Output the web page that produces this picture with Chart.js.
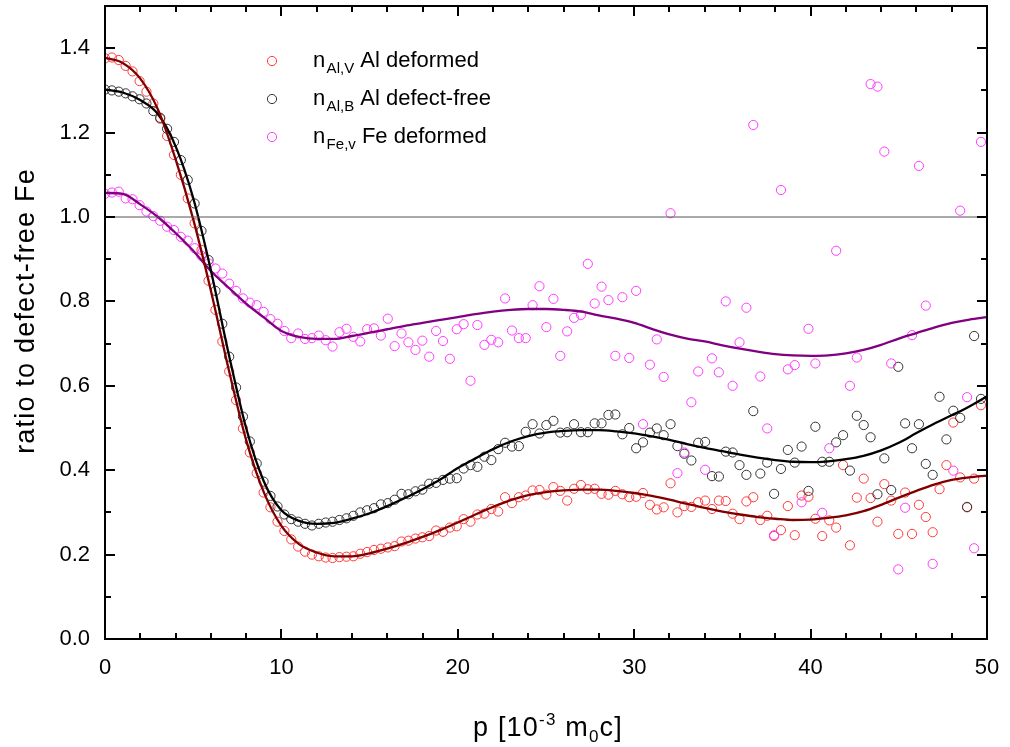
<!DOCTYPE html>
<html>
<head>
<meta charset="utf-8">
<script src="https://cdn.jsdelivr.net/npm/chart.js@4.4.1/dist/chart.umd.min.js"></script>
<style>
  html, body { margin: 0; padding: 0; background: #fff; }
  #wrap { width: 1010px; height: 747px; }
</style>
</head>
<body>
<div id="wrap"><canvas id="ratio-chart" width="1010" height="747"></canvas></div>
<script>
// momentum grid of the measured points, in 10^-3 m0c
var pGrid = [
  0, 0.39, 0.78, 1.17, 1.56, 1.96, 2.35, 2.74, 3.13, 3.52,
  3.91, 4.30, 4.69, 5.08, 5.47, 5.87, 6.26, 6.65, 7.04, 7.43,
  7.82, 8.21, 8.60, 8.99, 9.38, 9.78, 10.17, 10.56, 10.95, 11.34,
  11.73, 12.12, 12.51, 12.90, 13.29, 13.69, 14.08, 14.47, 14.86, 15.25,
  15.64, 16.03, 16.42, 16.81, 17.20, 17.60, 17.99, 18.38, 18.77, 19.16,
  19.55, 19.94, 20.33, 20.72, 21.11, 21.51, 21.90, 22.29, 22.68, 23.07,
  23.46, 23.85, 24.24, 24.63, 25.02, 25.42, 25.81, 26.20, 26.59, 26.98,
  27.37, 27.76, 28.15, 28.54, 28.93, 29.33, 29.72, 30.11, 30.50, 30.89,
  31.28, 31.67, 32.06, 32.45, 32.84, 33.24, 33.63, 34.02, 34.41, 34.80,
  35.19, 35.58, 35.97, 36.36, 36.75, 37.15, 37.54, 37.93, 38.32, 38.71,
  39.10, 39.49, 39.88, 40.27, 40.66, 41.06, 41.45, 41.84, 42.23, 42.62,
  43.01, 43.40, 43.79, 44.18, 44.57, 44.97, 45.36, 45.75, 46.14, 46.53,
  46.92, 47.31, 47.70, 48.09, 48.48, 48.87, 49.27, 49.66
];

// n Al,V  - Al deformed
var nAlV = [
  1.376, 1.378, 1.372, 1.358, 1.345, 1.322, 1.297, 1.269, 1.233, 1.192,
  1.147, 1.100, 1.044, 0.985, 0.922, 0.849, 0.780, 0.705, 0.634, 0.566,
  0.499, 0.442, 0.393, 0.347, 0.312, 0.278, 0.256, 0.236, 0.219, 0.207,
  0.200, 0.196, 0.193, 0.192, 0.194, 0.195, 0.196, 0.202, 0.206, 0.211,
  0.214, 0.217, 0.220, 0.231, 0.233, 0.238, 0.241, 0.244, 0.257, 0.254,
  0.264, 0.267, 0.284, 0.278, 0.295, 0.297, 0.308, 0.302, 0.336, 0.322,
  0.336, 0.340, 0.352, 0.353, 0.342, 0.360, 0.351, 0.328, 0.356, 0.365,
  0.355, 0.356, 0.344, 0.342, 0.351, 0.343, 0.336, 0.337, 0.346, 0.318,
  0.307, 0.312, 0.369, 0.300, 0.315, 0.313, 0.324, 0.328, 0.308, 0.328,
  0.327, 0.297, 0.284, 0.326, 0.336, 0.282, 0.292, 0.244, 0.258, 0.315,
  0.246, 0.340, 0.337, 0.285, 0.244, 0.281, 0.264, 0.412, 0.222, 0.335,
  0.380, 0.334, 0.278, 0.367, 0.328, 0.249, 0.347, 0.249, 0.318, 0.289,
  0.253, 0.355, 0.412, 0.513, 0.383, 0.312, 0.380, 0.554
];

// n Al,B  - Al defect-free
var nAlB = [
  1.302, 1.300, 1.297, 1.293, 1.286, 1.279, 1.269, 1.251, 1.235, 1.209,
  1.178, 1.135, 1.088, 1.032, 0.967, 0.898, 0.825, 0.747, 0.669, 0.596,
  0.527, 0.468, 0.416, 0.373, 0.339, 0.314, 0.295, 0.284, 0.278, 0.273,
  0.269, 0.273, 0.276, 0.278, 0.282, 0.286, 0.292, 0.300, 0.305, 0.310,
  0.319, 0.322, 0.330, 0.344, 0.343, 0.350, 0.354, 0.368, 0.370, 0.377,
  0.380, 0.381, 0.404, 0.412, 0.408, 0.432, 0.424, 0.450, 0.465, 0.456,
  0.457, 0.491, 0.509, 0.487, 0.507, 0.517, 0.489, 0.490, 0.509, 0.490,
  0.490, 0.511, 0.511, 0.531, 0.532, 0.485, 0.500, 0.452, 0.466, 0.489,
  0.499, 0.483, 0.509, 0.457, 0.439, 0.423, 0.465, 0.467, 0.386, 0.385,
  0.444, 0.442, 0.412, 0.389, 0.540, 0.392, 0.418, 0.344, 0.403, 0.448,
  0.418, 0.456, 0.351, 0.503, 0.420, 0.420, 0.466, 0.483, 0.399, 0.529,
  0.507, 0.478, 0.343, 0.428, 0.353, 0.645, 0.511, 0.452, 0.509, 0.415,
  0.389, 0.574, 0.473, 0.541, 0.524, 0.313, 0.718, 0.569
];

// n Fe,v  - Fe deformed (null = no point visible)
var nFeV = [
  1.055, 1.058, 1.060, 1.044, 1.042, 1.028, 1.013, 1.002, 0.991, 0.977,
  0.969, 0.953, 0.944, 0.926, 0.908, 0.890, 0.878, 0.866, 0.842, 0.825,
  0.807, 0.797, 0.791, 0.775, 0.758, 0.747, 0.730, 0.713, 0.724, 0.711,
  0.713, 0.719, 0.708, 0.693, 0.727, 0.735, 0.716, 0.705, 0.734, 0.736,
  0.719, 0.759, 0.694, 0.724, 0.703, 0.685, 0.707, 0.669, 0.730, 0.706,
  0.664, 0.734, 0.746, 0.612, 0.744, 0.697, 0.709, 0.703, 0.807, 0.731,
  0.713, 0.713, 0.791, 0.836, 0.739, 0.806, 0.671, 0.729, 0.761, 0.768,
  0.889, 0.795, 0.835, 0.803, 0.671, 0.810, 0.666, 0.825, 0.509, 0.650,
  0.710, 0.621, 1.009, 0.393, 0.442, 0.561, 0.634, 0.401, 0.665, 0.632,
  0.800, 0.600, 0.703, 0.785, 1.218, 0.622, 0.499, 0.246, 1.064, 0.639,
  0.649, 0.324, 0.735, 0.653, 0.299, 0.452, 0.920, null, 0.600, 0.667,
  null, 1.315, 1.309, 1.155, 0.653, 0.165, 0.311, 0.720, 1.121, 0.790,
  0.178, null, null, 0.399, 1.015, 0.573, 0.215, 1.178
];

// fitted curves, sampled every 1 unit
var fitP = [
  0, 1, 2, 3, 4, 5, 6, 7, 8, 9, 10, 11, 12, 13, 14, 15, 16, 17, 18, 19,
  20, 21, 22, 23, 24, 25, 26, 27, 28, 29, 30, 31, 32, 33, 34, 35, 36, 37, 38, 39,
  40, 41, 42, 43, 44, 45, 46, 47, 48, 49, 50
];
var fitAlV = [
  1.377, 1.365, 1.328, 1.255, 1.137, 0.995, 0.826, 0.641, 0.472, 0.348,
  0.268, 0.225, 0.205, 0.196, 0.196, 0.203, 0.214, 0.227, 0.242, 0.258,
  0.276, 0.295, 0.313, 0.329, 0.341, 0.348, 0.352, 0.354, 0.354, 0.351,
  0.346, 0.339, 0.330, 0.320, 0.311, 0.302, 0.295, 0.289, 0.285, 0.282,
  0.283, 0.287, 0.293, 0.303, 0.318, 0.335, 0.351, 0.366, 0.377, 0.383, 0.387
];
var fitAlB = [
  1.302, 1.295, 1.277, 1.244, 1.168, 1.045, 0.874, 0.678, 0.500, 0.374,
  0.305, 0.280, 0.273, 0.275, 0.285, 0.298, 0.315, 0.334, 0.355, 0.378,
  0.405, 0.428, 0.450, 0.468, 0.481, 0.489, 0.493, 0.495, 0.495, 0.492,
  0.487, 0.480, 0.472, 0.462, 0.453, 0.445, 0.437, 0.430, 0.424, 0.420,
  0.419, 0.421, 0.426, 0.434, 0.447, 0.465, 0.488, 0.510, 0.530, 0.551, 0.575
];
var fitFeV = [
  1.057, 1.055, 1.030, 1.000, 0.962, 0.920, 0.872, 0.833, 0.795, 0.762,
  0.730, 0.716, 0.711, 0.711, 0.718, 0.726, 0.734, 0.742, 0.749, 0.756,
  0.763, 0.770, 0.776, 0.780, 0.782, 0.782, 0.780, 0.776, 0.767, 0.759,
  0.749, 0.735, 0.722, 0.712, 0.705, 0.696, 0.688, 0.681, 0.675, 0.672,
  0.671, 0.672, 0.677, 0.685, 0.697, 0.712, 0.725, 0.738, 0.749, 0.757, 0.763
];

var refLevel = 1.0;
var xTickVals = [0, 10, 20, 30, 40, 50];
var yTickVals = [0, 0.2, 0.4, 0.6, 0.8, 1.0, 1.2, 1.4];

var FONT = "'Liberation Sans', Arial, sans-serif";

function pts(xs, ys) {
  return xs.map(function(x, i) { return { x: x, y: ys[i] }; });
}

function noPad(s) {
  s.paddingTop = 0; s.paddingBottom = 0; s.paddingLeft = 0; s.paddingRight = 0;
}

// frame, inward ticks on all sides, axis titles and legend
var decor = {
  id: 'decor',
  afterDraw: function(chart) {
    var ctx = chart.ctx, a = chart.chartArea;
    var xs = chart.scales.x, ys = chart.scales.y;
    ctx.save();
    ctx.strokeStyle = '#000';
    ctx.lineWidth = 2;
    ctx.strokeRect(a.left, a.top, a.right - a.left, a.bottom - a.top);

    ctx.beginPath();
    for (var v = 0; v <= 50.001; v += 2) {
      var px = Math.round(xs.getPixelForValue(v));
      var len = (Math.abs(v % 10) < 0.01) ? 10 : 6;
      ctx.moveTo(px, a.bottom); ctx.lineTo(px, a.bottom - len);
      ctx.moveTo(px, a.top); ctx.lineTo(px, a.top + len);
    }
    for (var k = 0; k <= 15; k++) {
      var py = Math.round(ys.getPixelForValue(k / 10));
      var l2 = (k % 2 === 0) ? 10 : 6;
      ctx.moveTo(a.left, py); ctx.lineTo(a.left + l2, py);
      ctx.moveTo(a.right, py); ctx.lineTo(a.right - l2, py);
    }
    ctx.stroke();

    ctx.fillStyle = '#000';
    // x title
    drawRich(ctx, [
      { t: 'p [10', size: 27 },
      { t: '-3', size: 17, dy: -11 },
      { t: ' m', size: 27 },
      { t: '0', size: 17, dy: 6 },
      { t: 'c]', size: 27 }
    ], (a.left + a.right) / 2 + 2, 736, true, '1.2px');

    // y title
    ctx.save();
    ctx.translate(34, 311);
    ctx.rotate(-Math.PI / 2);
    drawRich(ctx, [{ t: 'ratio to defect-free Fe', size: 27 }], 0, 0, true, '1.2px');
    ctx.restore();

    // legend
    var rows = [
      { c: '#ff3b3b', sub: 'Al,V', txt: ' Al deformed', y: 61 },
      { c: '#333333', sub: 'Al,B', txt: ' Al defect-free', y: 99 },
      { c: '#ff3cff', sub: 'Fe,v', txt: ' Fe deformed', y: 137 }
    ];
    rows.forEach(function(r) {
      ctx.beginPath();
      ctx.strokeStyle = r.c;
      ctx.lineWidth = 1;
      ctx.arc(272, r.y, 4.6, 0, Math.PI * 2);
      ctx.stroke();
      ctx.fillStyle = '#000';
      drawRich(ctx, [
        { t: 'n', size: 22 },
        { t: ' ', size: 5 },
        { t: r.sub, size: 15, dy: 6 },
        { t: r.txt, size: 22 }
      ], 313, r.y + 6, false);
    });
    ctx.restore();
  }
};

function drawRich(ctx, parts, x, y, center, spacing) {
  ctx.save();
  if (spacing && 'letterSpacing' in ctx) ctx.letterSpacing = spacing;
  ctx.textBaseline = 'alphabetic';
  ctx.textAlign = 'left';
  var total = 0;
  parts.forEach(function(p) {
    ctx.font = p.size + 'px ' + FONT;
    p.w = ctx.measureText(p.t).width;
    total += p.w;
  });
  var cx = center ? x - total / 2 : x;
  parts.forEach(function(p) {
    ctx.font = p.size + 'px ' + FONT;
    ctx.fillText(p.t, cx, y + (p.dy || 0));
    cx += p.w;
  });
  ctx.restore();
}

var pointBase = {
  showLine: false,
  pointStyle: 'circle',
  pointRadius: 4.6,
  pointBorderWidth: 1,
  pointBackgroundColor: 'rgba(0,0,0,0)'
};

new Chart(document.getElementById('ratio-chart'), {
  type: 'scatter',
  data: {
    datasets: [
      { label: 'ref', data: [{ x: 0, y: refLevel }, { x: 50, y: refLevel }], showLine: true,
        borderColor: '#555', borderWidth: 1, pointRadius: 0, order: 0 },
      { label: 'fit Al V', data: pts(fitP, fitAlV), showLine: true, borderColor: '#800000',
        borderWidth: 2.3, pointRadius: 0, cubicInterpolationMode: 'monotone', order: 1 },
      { label: 'fit Al B', data: pts(fitP, fitAlB), showLine: true, borderColor: '#000000',
        borderWidth: 2.3, pointRadius: 0, cubicInterpolationMode: 'monotone', order: 1 },
      { label: 'fit Fe v', data: pts(fitP, fitFeV), showLine: true, borderColor: '#800080',
        borderWidth: 2.3, pointRadius: 0, cubicInterpolationMode: 'monotone', order: 1 },
      Object.assign({ label: 'nAlV', data: pts(pGrid, nAlV), pointBorderColor: '#ff3b3b', order: 4 }, pointBase),
      Object.assign({ label: 'nAlB', data: pts(pGrid, nAlB), pointBorderColor: '#333333', order: 3 }, pointBase),
      Object.assign({ label: 'nFeV', data: pts(pGrid, nFeV), pointBorderColor: '#ff3cff', order: 2 }, pointBase)
    ]
  },
  options: {
    responsive: false,
    animation: false,
    devicePixelRatio: 1,
    layout: { autoPadding: false, padding: { top: 6, right: 23, left: 0, bottom: 0 } },
    plugins: { legend: { display: false }, tooltip: { enabled: false } },
    scales: {
      x: {
        type: 'linear', min: 0, max: 50,
        afterBuildTicks: function(s) { s.ticks = xTickVals.map(function(v) { return { value: v }; }); },
        afterFit: function(s) { s.height = 108; noPad(s); },
        grid: { display: false, drawTicks: false },
        border: { display: false },
        ticks: { color: '#000', padding: 16, maxRotation: 0, font: { family: FONT, size: 22 } }
      },
      y: {
        type: 'linear', min: 0, max: 1.5,
        afterBuildTicks: function(s) { s.ticks = yTickVals.map(function(v) { return { value: v }; }); },
        afterFit: function(s) { s.width = 105; noPad(s); },
        grid: { display: false, drawTicks: false },
        border: { display: false },
        ticks: { color: '#000', padding: 15, font: { family: FONT, size: 22 },
          callback: function(v) { return Number(v).toFixed(1); } }
      }
    }
  },
  plugins: [decor]
});
</script>
</body>
</html>
